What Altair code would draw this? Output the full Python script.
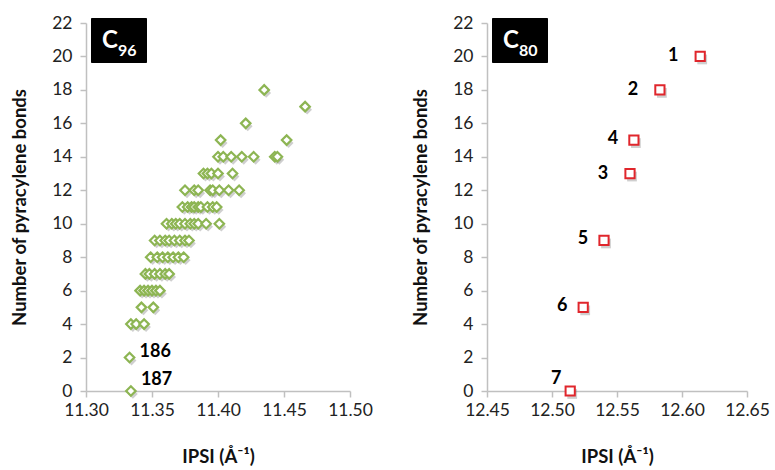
import altair as alt
import pandas as pd

# ---------------- data ----------------
# C96 isomers: IPSI values (Å^-1) and number of pyracylene bonds
c96_bonds = (
    [0] + [2] + [4] * 3 + [5] * 2 + [6] * 6 + [7] * 6 + [8] * 7 + [9] * 8
    + [10] * 10 + [11] * 9 + [12] * 8 + [13] * 5 + [14] * 7 + [15] * 2
    + [16] + [17] + [18]
)
c96_ipsi = [
    11.334,
    11.333,
    11.334, 11.338, 11.344,
    11.342, 11.351,
    11.341, 11.344, 11.347, 11.350, 11.353, 11.356,
    11.345, 11.348, 11.352, 11.356, 11.360, 11.363,
    11.349, 11.354, 11.358, 11.362, 11.366, 11.370, 11.374,
    11.352, 11.356, 11.360, 11.363, 11.367, 11.371, 11.375, 11.378,
    11.361, 11.365, 11.368, 11.371, 11.375, 11.379, 11.382, 11.385, 11.391, 11.401,
    11.373, 11.377, 11.380, 11.382, 11.385, 11.387, 11.392, 11.396, 11.399,
    11.375, 11.382, 11.385, 11.394, 11.396, 11.401, 11.408, 11.416,
    11.389, 11.392, 11.395, 11.400, 11.411,
    11.400, 11.404, 11.410, 11.418, 11.427, 11.443, 11.445,
    11.402, 11.452,
    11.421,
    11.466,
    11.435,
]
c96_label_text = ["186", "187"]
c96_label_bonds = [2, 0]
c96_label_ipsi = [11.333, 11.334]

# C80 isomers
c80_labels = ["1", "2", "4", "3", "5", "6", "7"]
c80_ipsi = [12.614, 12.583, 12.563, 12.560, 12.540, 12.524, 12.514]
c80_bonds = [20, 18, 15, 13, 9, 5, 0]

x96_ticks = [11.30, 11.35, 11.40, 11.45, 11.50]
x80_ticks = [12.45, 12.50, 12.55, 12.60, 12.65]
y_ticks = list(range(0, 23, 2))

GREEN = "#8db553"
RED = "#e0262c"
FONT = "Lato"

df96 = pd.DataFrame({"ipsi": c96_ipsi, "bonds": c96_bonds})
df80 = pd.DataFrame({"ipsi": c80_ipsi, "bonds": c80_bonds, "label": c80_labels})
lab96 = pd.DataFrame({"ipsi": c96_label_ipsi, "bonds": c96_label_bonds, "label": c96_label_text})
one = pd.DataFrame({"k": [0]})

ytitle = "Number of pyracylene bonds"
xtitle = "IPSI (Å\u207b\u00b9)"


def xenc(domain, ticks):
    return alt.X(
        "ipsi:Q",
        scale=alt.Scale(domain=domain, nice=False, zero=False),
        axis=alt.Axis(values=ticks, format=".2f", title=xtitle, titlePadding=29,
                      labelFlush=False),
    )


def yenc():
    return alt.Y(
        "bonds:Q",
        scale=alt.Scale(domain=[0, 22], nice=False),
        axis=alt.Axis(values=y_ticks, title=ytitle, titlePadding=22),
    )


def badge(sub, x_left):
    box = alt.Chart(one).mark_rect(color="black", cornerRadius=1).encode(
        x=alt.value(x_left), x2=alt.value(x_left + 56),
        y=alt.value(-5), y2=alt.value(40),
    )
    big = alt.Chart(one).mark_text(
        text="C", color="white", font=FONT, fontWeight="bold", fontSize=24,
        align="left", baseline="alphabetic",
    ).encode(x=alt.value(x_left + 11), y=alt.value(25))
    small = alt.Chart(one).mark_text(
        text=sub, color="white", font=FONT, fontWeight="bold", fontSize=16,
        align="left", baseline="alphabetic",
    ).encode(x=alt.value(x_left + 27), y=alt.value(33))
    return box + big + small


# ---------- C96 panel ----------
xe96 = xenc([11.30, 11.50], x96_ticks)
shadow96 = alt.Chart(df96).mark_point(
    shape="diamond", filled=True, color="#6e6e6e", opacity=0.33, size=95,
    xOffset=2, yOffset=3,
).encode(x=xe96, y=yenc())
pts96 = alt.Chart(df96).mark_point(
    shape="diamond", filled=True, fill="white", stroke=GREEN, strokeWidth=2.2,
    size=90, opacity=1,
).encode(x=xe96, y=yenc())
lab186 = alt.Chart(lab96).transform_filter(alt.datum.label == "186").mark_text(
    font=FONT, fontWeight="bold", fontSize=18, align="left", dx=10, dy=-6,
    color="black",
).encode(x=xe96, y=yenc(), text="label:N")
lab187 = alt.Chart(lab96).transform_filter(alt.datum.label == "187").mark_text(
    font=FONT, fontWeight="bold", fontSize=18, align="left", dx=10, dy=-11,
    color="black",
).encode(x=xe96, y=yenc(), text="label:N")

left = alt.layer(shadow96, pts96, lab186, lab187, badge("96", 5)).properties(
    width=264, height=368
)

# ---------- C80 panel ----------
xe80 = xenc([12.45, 12.65], x80_ticks)
shadow80 = alt.Chart(df80).mark_point(
    shape="square", filled=True, color="#6e6e6e", opacity=0.33, size=95,
    xOffset=2, yOffset=3,
).encode(x=xe80, y=yenc())
pts80 = alt.Chart(df80).mark_point(
    shape="square", filled=True, fill="white", stroke=RED, strokeWidth=2,
    size=85, opacity=1,
).encode(x=xe80, y=yenc())


def lab80(labels, dx, dy):
    return alt.Chart(df80).transform_filter(
        alt.FieldOneOfPredicate(field="label", oneOf=labels)
    ).mark_text(
        font=FONT, fontWeight="bold", fontSize=18, align="center", dx=dx, dy=dy,
        color="black",
    ).encode(x=xe80, y=yenc(), text="label:N")


right = alt.layer(
    shadow80, pts80,
    lab80(["1", "2", "3"], -27, 0),
    lab80(["4", "5", "6"], -21, -1),
    lab80(["7"], -14, -12),
    badge("80", 5),
).properties(width=260, height=368)

chart = (
    alt.hconcat(left, right, spacing=38)
    .properties(padding={"left": 10, "top": 14, "right": 0, "bottom": 0})
    .configure_view(stroke=None)
    .configure_axis(
        grid=False,
        domainColor="#c0c0c0",
        domainWidth=1.5,
        tickColor="#c0c0c0",
        tickWidth=1.5,
        tickSize=6,
        labelPadding=8,
        labelFont=FONT,
        labelFontSize=17.5,
        labelColor="#222222",
        titleFont=FONT,
        titleFontSize=18.5,
        titleFontWeight="bold",
        titleColor="#111111",
    )
    .configure_axisX(labelPadding=4)
)

chart.save("out.html", embed_options={"renderer": "svg", "actions": False})
